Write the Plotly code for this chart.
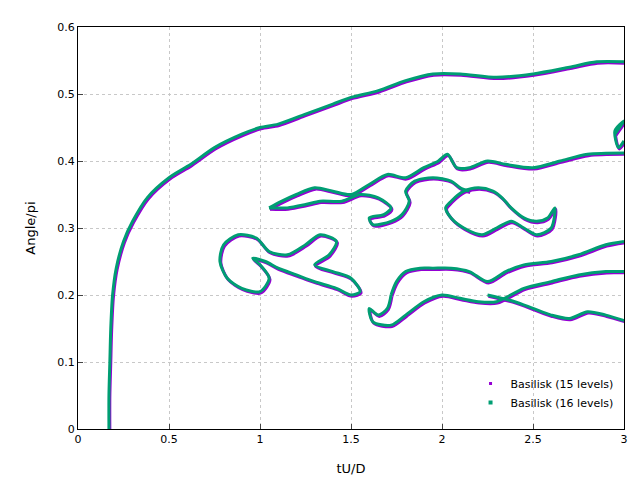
import plotly.graph_objects as go

# main angle curve
main_t = [0.17, 0.17, 0.175, 0.18, 0.19, 0.21, 0.25, 0.3, 0.38, 0.5, 0.62, 0.75, 0.9, 1.0, 1.1, 1.25, 1.4, 1.5, 1.65, 1.8, 1.95, 2.1, 2.3, 2.5, 2.7, 2.85, 3.0]
main_a = [0.0, 0.05, 0.1, 0.15, 0.2, 0.24, 0.28, 0.31, 0.345, 0.375, 0.395, 0.42, 0.44, 0.45, 0.455, 0.47, 0.485, 0.495, 0.505, 0.52, 0.53, 0.53, 0.525, 0.53, 0.54, 0.548, 0.548]

# left lower loop
loop1_t = [0.78, 0.8, 0.88, 0.98, 1.05, 1.15, 1.25, 1.33, 1.42, 1.38, 1.3, 1.4, 1.5, 1.55, 1.5, 1.42, 1.3, 1.2, 1.1, 1.03, 0.96, 1.0, 1.05, 1.0, 0.9, 0.82, 0.78]
loop1_a = [0.25, 0.275, 0.29, 0.285, 0.265, 0.26, 0.275, 0.29, 0.28, 0.26, 0.245, 0.235, 0.225, 0.205, 0.2, 0.21, 0.22, 0.23, 0.24, 0.25, 0.255, 0.245, 0.225, 0.205, 0.21, 0.225, 0.25]

# upper band
band_t = [1.05, 1.12, 1.2, 1.3, 1.4, 1.5, 1.6, 1.7, 1.8, 1.9, 1.98, 2.03, 2.08, 2.15, 2.25, 2.35, 2.5, 2.65, 2.8, 3.0]
band_a = [0.33, 0.34, 0.35, 0.36, 0.355, 0.35, 0.365, 0.38, 0.375, 0.39, 0.4, 0.41, 0.39, 0.39, 0.4, 0.395, 0.39, 0.4, 0.41, 0.412]
band2_t = [1.05, 1.15, 1.25, 1.33, 1.45, 1.55, 1.65, 1.72, 1.68, 1.6, 1.62, 1.72, 1.78, 1.82, 1.8, 1.85, 1.95, 2.05, 2.1, 2.15]
band2_a = [0.33, 0.33, 0.335, 0.34, 0.34, 0.35, 0.345, 0.33, 0.32, 0.315, 0.305, 0.31, 0.32, 0.34, 0.355, 0.37, 0.375, 0.37, 0.36, 0.355]

# nested right loop
loop2_t = [2.05, 2.12, 2.2, 2.28, 2.33, 2.38, 2.45, 2.52, 2.58, 2.62, 2.6, 2.52, 2.45, 2.38, 2.3, 2.22, 2.12, 2.05, 2.02, 2.05]
loop2_a = [0.34, 0.355, 0.36, 0.355, 0.345, 0.33, 0.315, 0.31, 0.315, 0.33, 0.3, 0.29, 0.3, 0.31, 0.3, 0.29, 0.3, 0.315, 0.33, 0.34]

# lower right band
band3_t = [1.72, 1.75, 1.8, 1.88, 1.95, 2.05, 2.15, 2.25, 2.35, 2.45, 2.6, 2.75, 2.9, 3.0]
band3_a = [0.2, 0.22, 0.235, 0.24, 0.24, 0.24, 0.235, 0.22, 0.235, 0.245, 0.25, 0.26, 0.275, 0.28]
band4_t = [1.72, 1.7, 1.65, 1.6, 1.62, 1.72, 1.8, 1.9, 2.0, 2.1, 2.2, 2.3, 2.45, 2.6, 2.75, 2.9, 3.0]
band4_a = [0.2, 0.18, 0.17, 0.18, 0.16, 0.155, 0.17, 0.19, 0.2, 0.195, 0.19, 0.19, 0.21, 0.22, 0.23, 0.235, 0.235]
band5_t = [2.25, 2.4, 2.5, 2.6, 2.7, 2.8, 2.9, 3.0]
band5_a = [0.2, 0.19, 0.18, 0.17, 0.165, 0.175, 0.17, 0.162]
band6_t = [2.95, 3.0, 2.95, 2.97, 3.0]
band6_a = [0.44, 0.46, 0.445, 0.42, 0.43]


def join(*parts):
    out = []
    for p in parts:
        out += list(p) + [None]
    return out


xs = join(main_t, loop1_t, band_t, band2_t, loop2_t, band3_t, band4_t, band5_t, band6_t)
ys = join(main_a, loop1_a, band_a, band2_a, loop2_a, band3_a, band4_a, band5_a, band6_a)

fig = go.Figure()
fig.add_trace(go.Scatter(x=[v + 0.005 if v is not None else None for v in xs],
                         y=[v - 0.002 if v is not None else None for v in ys],
                         mode="lines", line=dict(color="#9400d3", width=3, shape="spline", smoothing=0.8),
                         showlegend=False))
fig.add_trace(go.Scatter(x=xs, y=ys, mode="lines",
                         line=dict(color="#009e73", width=3, shape="spline", smoothing=0.8),
                         showlegend=False))
fig.add_trace(go.Scatter(x=[None], y=[None], mode="markers", name="Basilisk (15 levels)",
                         marker=dict(color="#9400d3", size=3, symbol="square")))
fig.add_trace(go.Scatter(x=[None], y=[None], mode="markers", name="Basilisk (16 levels)",
                         marker=dict(color="#009e73", size=4, symbol="square")))

grid = dict(showgrid=True, gridcolor="#c8c8c8", griddash="dot", zeroline=False, automargin=False,
            showline=True, linecolor="black", mirror=True, ticks="inside", ticklen=5,
            tickfont=dict(size=11))
fig.update_layout(
    width=640, height=480, plot_bgcolor="white", paper_bgcolor="white",
    font=dict(family="DejaVu Sans", size=11, color="black"),
    margin=dict(l=70, r=24, t=19, b=59),
    xaxis=dict(range=[0, 3], dtick=0.5, title=dict(text="tU/D", standoff=18), **grid),
    yaxis=dict(range=[0, 0.6], dtick=0.1, title=dict(text="Angle/pi", standoff=18), **grid),
    legend=dict(x=0.99, y=0.03, xanchor="right", yanchor="bottom", bgcolor="rgba(0,0,0,0)"),
)
fig.write_html("out.html")
